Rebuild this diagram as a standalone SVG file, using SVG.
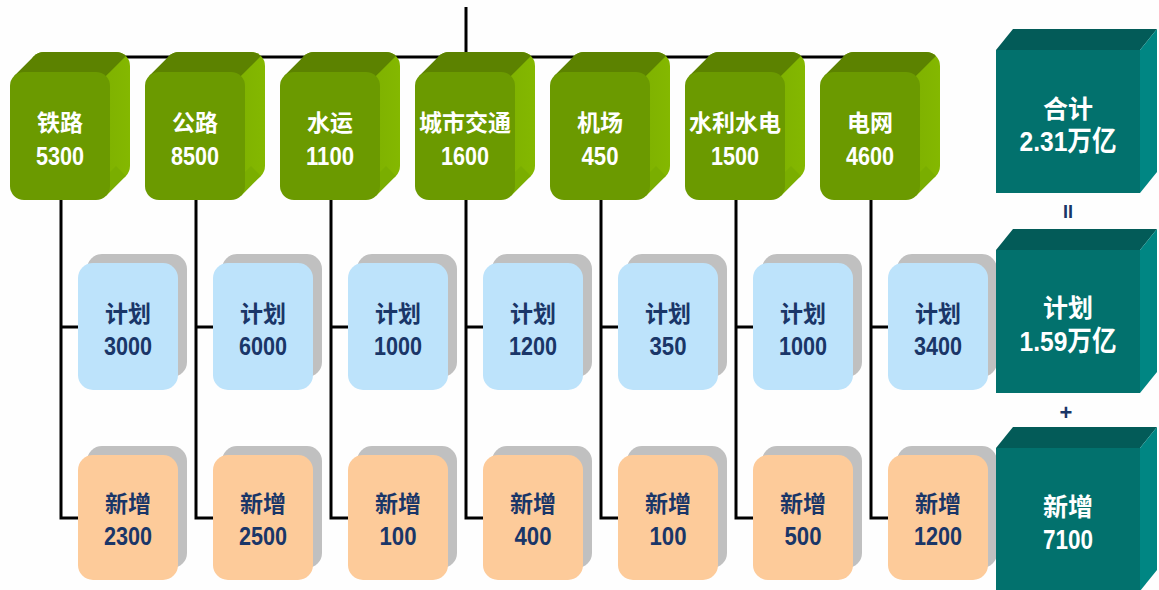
<svg xmlns="http://www.w3.org/2000/svg" xmlns:xlink="http://www.w3.org/1999/xlink" width="1159" height="590" viewBox="0 0 1159 590">
<style>
.ln{fill:none;stroke:#000;stroke-width:3}
.t{font-weight:bold;text-anchor:middle;font-family:"Liberation Sans","Noto Sans CJK SC",sans-serif}
.w{fill:#fff}
.n{fill:#1a3668}
.cn{font-size:23px}
.num{font-size:25px}
.tc{font-size:25px}
.tn{font-size:28px}
.sh{fill:#c0c0c0}
.blue{fill:#bde3fb}
.org{fill:#fdcb9a}
</style>
<defs>
<linearGradient id="gside" x1="0" y1="0" x2="1" y2="0">
<stop offset="0" stop-color="#70a000"/>
<stop offset="1" stop-color="#84b800"/>
</linearGradient>
<clipPath id="gclip"><rect x="20" y="-20" width="100" height="128" rx="14"/></clipPath>
<g id="gbox">
<rect x="20" y="-20" width="100" height="128" rx="14" fill="url(#gside)"/>
<polygon points="95.9,123.9 115.9,103.9 106,94 86,114" fill="#7aae00"/>
<polygon points="95.9,4.1 125,-24.9 10,-30 10,10" fill="#5c8200" clip-path="url(#gclip)"/>
<polygon points="4.1,4.1 24.1,-15.9 34,-6 14,14" fill="#5c8200"/>
<rect x="0" y="0" width="100" height="128" rx="14" fill="#6b9a00"/>
</g>
<g id="tbox">
<polygon points="0,0 17,-21 161,-21 144,0" fill="#035b58"/>
<polygon points="144,0 161,-21 161,122 144,143" fill="#008683"/>
<rect x="0" y="0" width="144" height="143" fill="#02716d"/>
</g>
<g id="bbox">
<rect class="sh" x="9" y="-9" width="100" height="123" rx="15"/>
<rect class="blue" x="0" y="0" width="100" height="127" rx="15"/>
</g>
<g id="obox">
<rect class="sh" x="9" y="-9" width="100" height="122" rx="15"/>
<rect class="org" x="0" y="0" width="100" height="125" rx="15"/>
</g>
</defs>
<rect width="1159" height="590" fill="#fefefe"/>
<g id="connectors">
<path class="ln" d="M466,7 V57 M61,57 H871"/>
<path class="ln" d="M61,200 V518 H78 M61,327 H78"/>
<path class="ln" d="M196,200 V518 H213 M196,327 H213"/>
<path class="ln" d="M331,200 V518 H348 M331,327 H348"/>
<path class="ln" d="M466,200 V518 H483 M466,327 H483"/>
<path class="ln" d="M601,200 V518 H618 M601,327 H618"/>
<path class="ln" d="M736,200 V518 H753 M736,327 H753"/>
<path class="ln" d="M871,200 V518 H888 M871,327 H888"/>
</g>
<g id="g1"><use xlink:href="#gbox" x="10" y="72"/><text class="t w cn" x="60" y="131">铁路</text><text class="t w num" x="60" y="165" textLength="48" lengthAdjust="spacingAndGlyphs">5300</text></g>
<g id="g2"><use xlink:href="#gbox" x="145" y="72"/><text class="t w cn" x="195" y="131">公路</text><text class="t w num" x="195" y="165" textLength="48" lengthAdjust="spacingAndGlyphs">8500</text></g>
<g id="g3"><use xlink:href="#gbox" x="280" y="72"/><text class="t w cn" x="330" y="131">水运</text><text class="t w num" x="330" y="165" textLength="48" lengthAdjust="spacingAndGlyphs">1100</text></g>
<g id="g4"><use xlink:href="#gbox" x="415" y="72"/><text class="t w cn" x="465" y="131">城市交通</text><text class="t w num" x="465" y="165" textLength="48" lengthAdjust="spacingAndGlyphs">1600</text></g>
<g id="g5"><use xlink:href="#gbox" x="550" y="72"/><text class="t w cn" x="600" y="131">机场</text><text class="t w num" x="600" y="165" textLength="37" lengthAdjust="spacingAndGlyphs">450</text></g>
<g id="g6"><use xlink:href="#gbox" x="685" y="72"/><text class="t w cn" x="735" y="131">水利水电</text><text class="t w num" x="735" y="165" textLength="48" lengthAdjust="spacingAndGlyphs">1500</text></g>
<g id="g7"><use xlink:href="#gbox" x="820" y="72"/><text class="t w cn" x="870" y="131">电网</text><text class="t w num" x="870" y="165" textLength="48" lengthAdjust="spacingAndGlyphs">4600</text></g>

<g id="p1"><use xlink:href="#bbox" x="78" y="263"/><text class="t n cn" x="128" y="322">计划</text><text class="t n num" x="128" y="355" textLength="48" lengthAdjust="spacingAndGlyphs">3000</text></g>
<g id="p2"><use xlink:href="#bbox" x="213" y="263"/><text class="t n cn" x="263" y="322">计划</text><text class="t n num" x="263" y="355" textLength="48" lengthAdjust="spacingAndGlyphs">6000</text></g>
<g id="p3"><use xlink:href="#bbox" x="348" y="263"/><text class="t n cn" x="398" y="322">计划</text><text class="t n num" x="398" y="355" textLength="48" lengthAdjust="spacingAndGlyphs">1000</text></g>
<g id="p4"><use xlink:href="#bbox" x="483" y="263"/><text class="t n cn" x="533" y="322">计划</text><text class="t n num" x="533" y="355" textLength="48" lengthAdjust="spacingAndGlyphs">1200</text></g>
<g id="p5"><use xlink:href="#bbox" x="618" y="263"/><text class="t n cn" x="668" y="322">计划</text><text class="t n num" x="668" y="355" textLength="37" lengthAdjust="spacingAndGlyphs">350</text></g>
<g id="p6"><use xlink:href="#bbox" x="753" y="263"/><text class="t n cn" x="803" y="322">计划</text><text class="t n num" x="803" y="355" textLength="48" lengthAdjust="spacingAndGlyphs">1000</text></g>
<g id="p7"><use xlink:href="#bbox" x="888" y="263"/><text class="t n cn" x="938" y="322">计划</text><text class="t n num" x="938" y="355" textLength="48" lengthAdjust="spacingAndGlyphs">3400</text></g>

<g id="a1"><use xlink:href="#obox" x="78" y="455"/><text class="t n cn" x="128" y="512">新增</text><text class="t n num" x="128" y="545" textLength="48" lengthAdjust="spacingAndGlyphs">2300</text></g>
<g id="a2"><use xlink:href="#obox" x="213" y="455"/><text class="t n cn" x="263" y="512">新增</text><text class="t n num" x="263" y="545" textLength="48" lengthAdjust="spacingAndGlyphs">2500</text></g>
<g id="a3"><use xlink:href="#obox" x="348" y="455"/><text class="t n cn" x="398" y="512">新增</text><text class="t n num" x="398" y="545" textLength="37" lengthAdjust="spacingAndGlyphs">100</text></g>
<g id="a4"><use xlink:href="#obox" x="483" y="455"/><text class="t n cn" x="533" y="512">新增</text><text class="t n num" x="533" y="545" textLength="37" lengthAdjust="spacingAndGlyphs">400</text></g>
<g id="a5"><use xlink:href="#obox" x="618" y="455"/><text class="t n cn" x="668" y="512">新增</text><text class="t n num" x="668" y="545" textLength="37" lengthAdjust="spacingAndGlyphs">100</text></g>
<g id="a6"><use xlink:href="#obox" x="753" y="455"/><text class="t n cn" x="803" y="512">新增</text><text class="t n num" x="803" y="545" textLength="37" lengthAdjust="spacingAndGlyphs">500</text></g>
<g id="a7"><use xlink:href="#obox" x="888" y="455"/><text class="t n cn" x="938" y="512">新增</text><text class="t n num" x="938" y="545" textLength="48" lengthAdjust="spacingAndGlyphs">1200</text></g>

<g id="total"><use xlink:href="#tbox" x="996" y="50"/><text class="t w tc" x="1068" y="118">合计</text><text class="t w tn" x="1068" y="151" textLength="97" lengthAdjust="spacingAndGlyphs">2.31万亿</text></g>
<g id="plan-total"><use xlink:href="#tbox" x="996" y="250"/><text class="t w tc" x="1068" y="317">计划</text><text class="t w tn" x="1068" y="351" textLength="97" lengthAdjust="spacingAndGlyphs">1.59万亿</text></g>
<g id="new-total"><use xlink:href="#tbox" x="996" y="448"/><text class="t w tc" x="1068" y="516">新增</text><text class="t w tn" x="1068" y="549" textLength="50" lengthAdjust="spacingAndGlyphs">7100</text></g>
<text class="t n" x="1068" y="218" font-size="18">II</text>
<text class="t n" x="1066" y="420" font-size="22">+</text>
</svg>
